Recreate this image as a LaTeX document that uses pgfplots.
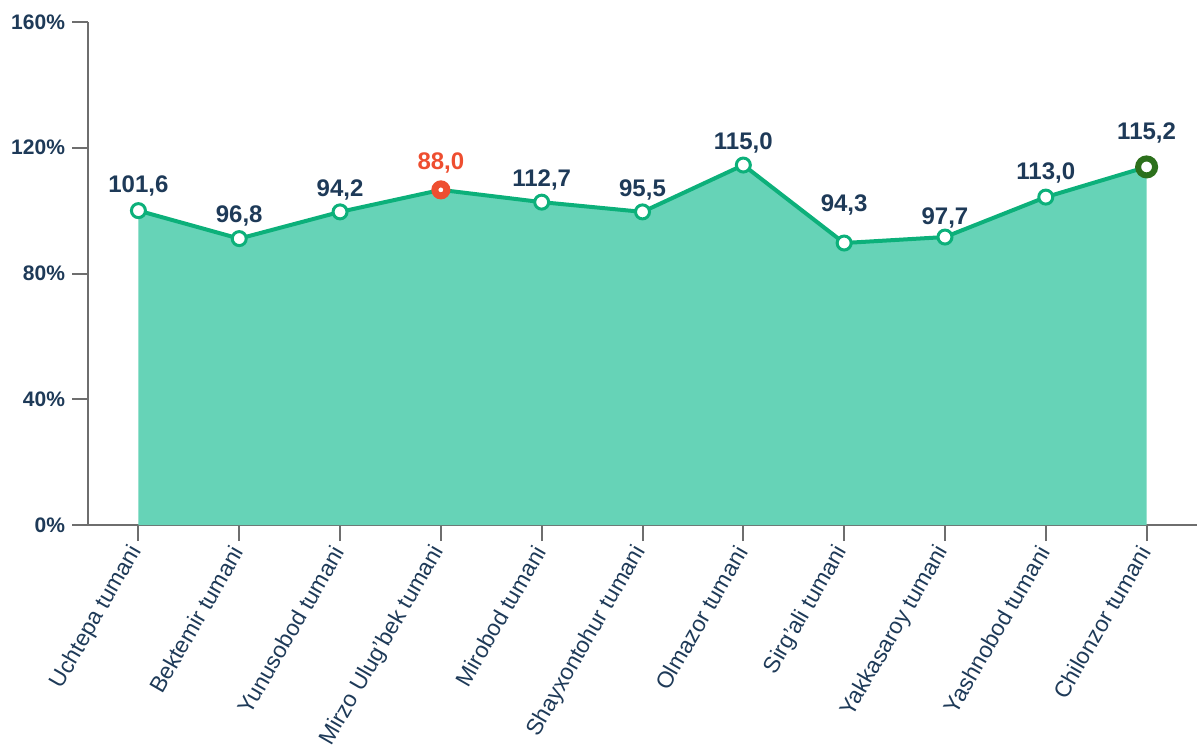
\documentclass[border=0pt]{standalone}
\usepackage{pgfplots}
\usepackage{pgfplotstable}
\pgfplotsset{compat=1.18}
\usepackage{fontspec}
\setmainfont{Liberation Sans}
\definecolor{areafill}{RGB}{102,211,183}
\definecolor{linegreen}{RGB}{12,176,122}
\definecolor{darkgreen}{RGB}{44,112,28}
\definecolor{hotred}{RGB}{238,78,48}
\definecolor{labnavy}{RGB}{30,58,88}
\definecolor{axisgray}{RGB}{110,110,110}

% x y label dy(px) kind(0 normal, 1 red, 2 last)
\pgfplotstableread{
x y lab dy kind
0 100.0 101,6 25 0
1 91.1 96,8 23 0
2 99.6 94,2 22 0
3 106.6 88,0 27 1
4 102.7 112,7 22 0
5 99.6 95,5 22 0
6 114.5 115,0 22 0
7 89.7 94,3 38 0
8 91.6 97,7 19 0
9 104.3 113,0 24 0
10 113.9 115,2 34 2
}\districts

\begin{document}
\begin{tikzpicture}
\useasboundingbox (-44pt,-110pt) rectangle (554.5pt,262.5pt);
\begin{axis}[
    at={(0,0)}, anchor=south west,
    scale only axis, width=554.5pt, height=251.5pt,
    xmin=-0.5, xmax=10.5, ymin=0, ymax=160,
    axis x line*=bottom, axis y line*=left,
    axis line style={draw=axisgray, line width=1pt},
    tick style={draw=axisgray, line width=1pt},
    tick align=outside, major tick length=8pt,
    xtick={0,...,10},
    xticklabels={Uchtepa tumani, Bektemir tumani, Yunusobod tumani,
        Mirzo Ulug'bek tumani, Mirobod tumani, Shayxontohur tumani,
        Olmazor tumani, Sirg'ali tumani, Yakkasaroy tumani,
        Yashnobod tumani, Chilonzor tumani},
    x tick label style={rotate=60, anchor=east, yshift=-1pt, font=\fontsize{11.4}{13}\selectfont, text=labnavy},
    ytick={0,40,80,120,160},
    yticklabels={0\%,40\%,80\%,120\%,160\%},
    y tick label style={font=\fontsize{10.5}{12}\selectfont\bfseries, text=labnavy},
    clip=false,
]
\addplot[fill=areafill, draw=none] table[x=x, y=y] {\districts} \closedcycle;
\addplot[linegreen, line width=2pt] table[x=x, y=y] {\districts};
% regular points
\addplot[only marks, mark=*, mark size=3.5pt,
    mark options={fill=white, draw=linegreen, line width=1.5pt},
    x filter/.expression={\thisrow{kind}==0 ? x : nan},
    point meta=explicit symbolic,
    visualization depends on={\thisrow{dy} \as \dy},
    nodes near coords,
    every node near coord/.append style={anchor=center, yshift=0.5*\dy pt,
        font=\fontsize{12}{14}\selectfont\bfseries, text=labnavy}]
    table[x=x, y=y, meta=lab] {\districts};
% lowest-ranked point
\addplot[only marks, mark=*, mark size=3pt,
    mark options={fill=white, draw=hotred, line width=3.5pt},
    x filter/.expression={\thisrow{kind}==1 ? x : nan},
    point meta=explicit symbolic,
    visualization depends on={\thisrow{dy} \as \dy},
    nodes near coords,
    every node near coord/.append style={anchor=center, yshift=0.5*\dy pt,
        font=\fontsize{12}{14}\selectfont\bfseries, text=hotred}]
    table[x=x, y=y, meta=lab] {\districts};
% highest-ranked point
\addplot[only marks, mark=*, mark size=4.25pt,
    mark options={fill=white, draw=darkgreen, line width=3pt},
    x filter/.expression={\thisrow{kind}==2 ? x : nan},
    point meta=explicit symbolic,
    visualization depends on={\thisrow{dy} \as \dy},
    nodes near coords,
    every node near coord/.append style={anchor=center, yshift=0.5*\dy pt,
        font=\fontsize{12}{14}\selectfont\bfseries, text=labnavy}]
    table[x=x, y=y, meta=lab] {\districts};
\end{axis}
\end{tikzpicture}
\end{document}
